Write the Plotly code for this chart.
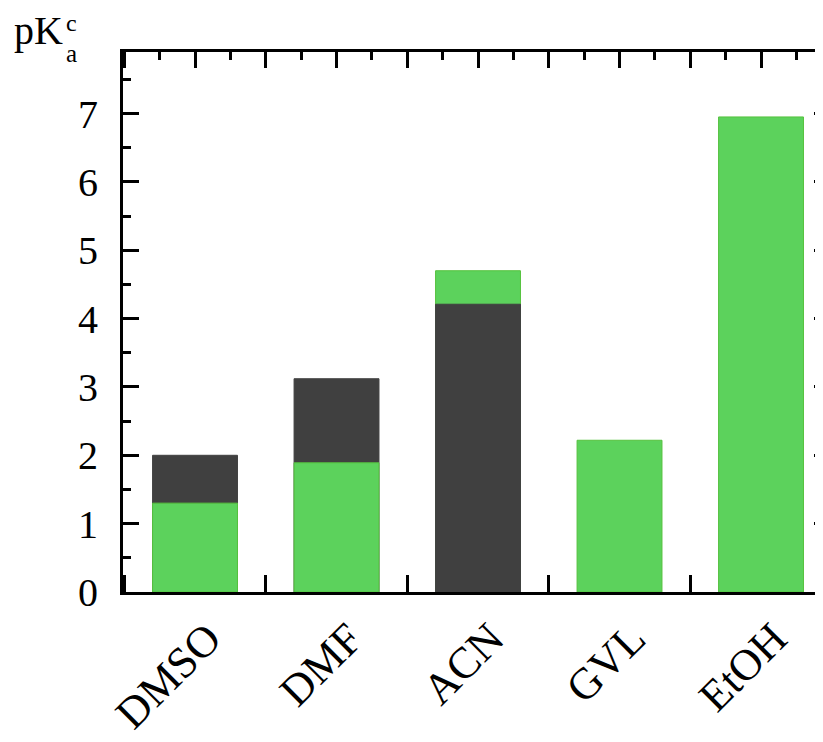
import plotly.graph_objects as go

solvents = ["DMSO", "DMF", "ACN", "GVL", "EtOH"]
pka_green = [1.30, 1.89, 4.70, 2.22, 6.95]
pka_dark = [2.00, 3.12, 4.21, None, None]

GREEN = "#5CD25C"
GREEN_EDGE = "#55C23E"
DARK = "#404040"
FONT = "Liberation Serif"

xs = list(range(len(solvents)))

# draw the taller bar of each solvent behind, the shorter one in front
back_y, back_c, back_l, front_y, front_c, front_l = [], [], [], [], [], []
for g, d in zip(pka_green, pka_dark):
    pairs = [(g, GREEN, GREEN_EDGE)]
    if d is not None:
        pairs.append((d, DARK, DARK))
    pairs.sort(key=lambda p: -p[0])
    back_y.append(pairs[0][0]); back_c.append(pairs[0][1]); back_l.append(pairs[0][2])
    if len(pairs) > 1:
        front_y.append(pairs[1][0]); front_c.append(pairs[1][1]); front_l.append(pairs[1][2])
    else:
        front_y.append(None); front_c.append(GREEN); front_l.append(GREEN_EDGE)

fig = go.Figure()
fig.add_trace(go.Bar(x=xs, y=back_y, width=0.6,
                     marker=dict(color=back_c, line=dict(color=back_l, width=1)),
                     showlegend=False))
fig.add_trace(go.Bar(x=xs, y=front_y, width=0.6,
                     marker=dict(color=front_c, line=dict(color=front_l, width=1)),
                     showlegend=False))
# helper trace to carry the top/right mirror axes
fig.add_trace(go.Scatter(x=[None], y=[None], xaxis="x2", yaxis="y2",
                         showlegend=False, hoverinfo="skip"))

xr = [-0.509, 4.438]
yr = [0, 7.9]

# figure sits at the 8px body margin; sized so the page does not overflow
FIG_W, FIG_H = 815, 726
L, T, W, H = 115, 44, 700, 540


def px(page_x):
    return (page_x - (L + 8)) / W


def py(page_y):
    return ((T + 8) + H - page_y) / H


fig.update_layout(
    width=FIG_W, height=FIG_H,
    margin=dict(l=L, r=FIG_W - L - W, t=T, b=FIG_H - T - H, autoexpand=False),
    paper_bgcolor="white", plot_bgcolor="white",
    barmode="overlay",
    font=dict(family=FONT, size=40, color="black"),
    xaxis=dict(range=xr, tickvals=xs, ticktext=solvents, tickangle=-45,
               ticks="", showline=True, linewidth=3, linecolor="black",
               showgrid=False, zeroline=False, ticklabelstandoff=0,
               ticklabelshift=13, automargin=False,
               minor=dict(ticks="inside", tick0=0.5, dtick=1, ticklen=17,
                          tickwidth=3, tickcolor="black", showgrid=False),
               tickfont=dict(family=FONT, size=44, color="black")),
    xaxis2=dict(range=xr, overlaying="x", side="top", showline=True,
                linewidth=3, linecolor="black", ticks="inside", tick0=0,
                dtick=0.5, ticklen=16, tickwidth=3, tickcolor="black",
                showticklabels=False, showgrid=False, zeroline=False,
                automargin=False,
                minor=dict(ticks="inside", dtick=0.25, ticklen=8,
                           tickwidth=3, tickcolor="black", showgrid=False)),
    yaxis=dict(range=yr, ticks="inside", tick0=0, dtick=1, ticklen=16,
               tickwidth=3, tickcolor="black", showline=True, linewidth=3,
               linecolor="black", showgrid=False, zeroline=False,
               ticklabelstandoff=14, automargin=False,
               minor=dict(ticks="inside", dtick=0.5, ticklen=8, tickwidth=3,
                          tickcolor="black", showgrid=False),
               tickfont=dict(family=FONT, size=40, color="black")),
    yaxis2=dict(range=yr, overlaying="y", side="right", ticks="inside",
                tick0=0, dtick=1, ticklen=9, tickwidth=3, tickcolor="black",
                showline=False, showticklabels=False, showgrid=False,
                zeroline=False, automargin=False),
)

fig.add_annotation(text="pK", xref="paper", yref="paper", x=px(12),
                   y=py(55), xanchor="left", yanchor="bottom",
                   showarrow=False, font=dict(family=FONT, size=40, color="black"))
fig.add_annotation(text="a", xref="paper", yref="paper", x=px(64),
                   y=py(69), xanchor="left", yanchor="bottom",
                   showarrow=False, font=dict(family=FONT, size=25, color="black"))
fig.add_annotation(text="c", xref="paper", yref="paper", x=px(64),
                   y=py(38), xanchor="left", yanchor="bottom",
                   showarrow=False, font=dict(family=FONT, size=24, color="black"))

fig.write_html("out.html")
